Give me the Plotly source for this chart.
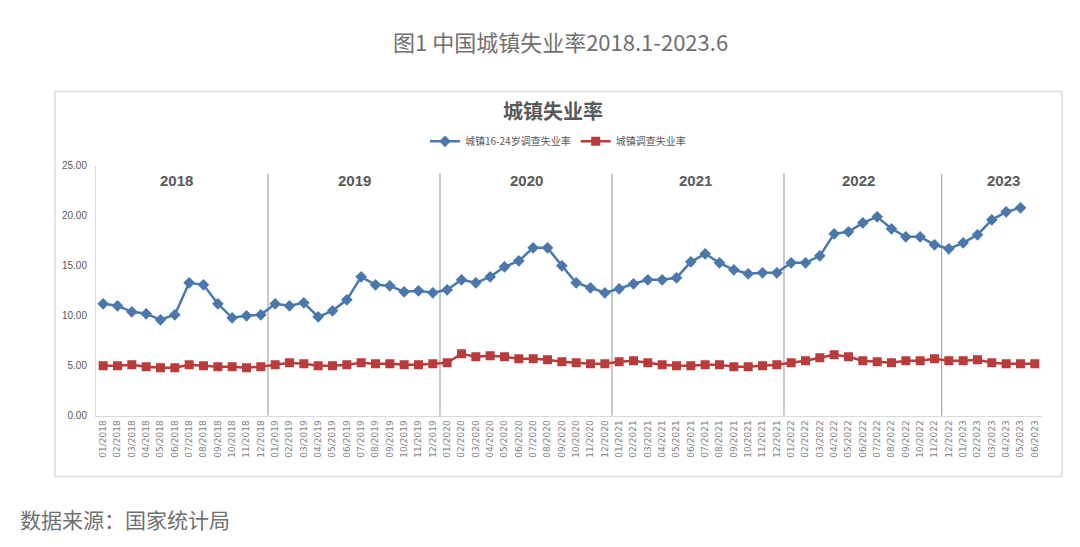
import plotly.graph_objects as go

# ---- data ----
months = [f"{m:02d}/{y}" for y in range(2018, 2024) for m in range(1, 13)][:66]

youth_rate = [
    11.2, 11.0, 10.4, 10.2, 9.6, 10.1, 13.3, 13.1, 11.2, 9.8, 10.0, 10.1,   # 2018
    11.2, 11.0, 11.3, 9.9, 10.5, 11.6, 13.9, 13.1, 13.0, 12.4, 12.5, 12.3,  # 2019
    12.6, 13.6, 13.3, 13.9, 14.9, 15.5, 16.8, 16.8, 15.0, 13.3, 12.8, 12.3, # 2020
    12.7, 13.2, 13.6, 13.6, 13.8, 15.4, 16.2, 15.3, 14.6, 14.2, 14.3, 14.3, # 2021
    15.3, 15.3, 16.0, 18.2, 18.4, 19.3, 19.9, 18.7, 17.9, 17.9, 17.1, 16.7, # 2022
    17.3, 18.1, 19.6, 20.4, 20.8, None,                                     # 2023
]

urban_rate = [
    5.0, 5.0, 5.1, 4.9, 4.8, 4.8, 5.1, 5.0, 4.9, 4.9, 4.8, 4.9,
    5.1, 5.3, 5.2, 5.0, 5.0, 5.1, 5.3, 5.2, 5.2, 5.1, 5.1, 5.2,
    5.3, 6.2, 5.9, 6.0, 5.9, 5.7, 5.7, 5.6, 5.4, 5.3, 5.2, 5.2,
    5.4, 5.5, 5.3, 5.1, 5.0, 5.0, 5.1, 5.1, 4.9, 4.9, 5.0, 5.1,
    5.3, 5.5, 5.8, 6.1, 5.9, 5.5, 5.4, 5.3, 5.5, 5.5, 5.7, 5.5,
    5.5, 5.6, 5.3, 5.2, 5.2, 5.2,
]

years = ["2018", "2019", "2020", "2021", "2022", "2023"]
y_ticks = [0, 5, 10, 15, 20, 25]

series_names = ["城镇16-24岁调查失业率", "城镇调查失业率"]

# ---- layout constants ----
W, H = 1080, 547
OFF = 8  # default page body margin


def px(x):
    return (x - OFF) / W


def py(y):
    return 1 - (y - OFF) / H


x_idx = list(range(len(months)))
separators = [11.5, 23.5, 35.5, 47.5, 58.5]
year_pos = [5.15, 17.5, 29.5, 41.3, 52.7, 62.8]

BLUE = "#4A78AC"
RED = "#B93B3B"
GRAY = "#595959"
CJK = "Noto Sans CJK SC"

fig = go.Figure()
fig.add_trace(go.Scatter(
    x=x_idx, y=youth_rate, name=series_names[0], mode="lines+markers",
    line=dict(color=BLUE, width=2.5),
    marker=dict(symbol="diamond", size=9, color=BLUE),
    connectgaps=False,
))
fig.add_trace(go.Scatter(
    x=x_idx, y=urban_rate, name=series_names[1], mode="lines+markers",
    line=dict(color=RED, width=2.5),
    marker=dict(symbol="square", size=9, color=RED),
))

shapes = []
shapes.append(dict(type="rect", xref="paper", yref="paper",
                   x0=px(55), x1=px(1062), y0=py(481), y1=py(88),
                   line=dict(color="#DADADA", width=1.5), layer="below"))
for s in separators:
    shapes.append(dict(type="line", xref="x", yref="y", x0=s, x1=s, y0=0, y1=24.2,
                       line=dict(color="#A6A6A6", width=1.2), layer="below"))

annotations = []
for yr, p in zip(years, year_pos):
    annotations.append(dict(x=p, y=23.5, xref="x", yref="y", text=f"<b>{yr}</b>",
                            xanchor="center", yanchor="middle",
                            showarrow=False, font=dict(family="Liberation Sans", size=15, color=GRAY)))
annotations.append(dict(x=px(560), y=py(37), xref="paper", yref="paper",
                        xanchor="center", yanchor="middle",
                        text="图1 中国城镇失业率2018.1-2023.6", showarrow=False,
                        font=dict(family=CJK, size=22, color="#707070")))
annotations.append(dict(x=px(553), y=py(108), xref="paper", yref="paper",
                        xanchor="center", yanchor="middle",
                        text="<b>城镇失业率</b>", showarrow=False,
                        font=dict(family=CJK, size=20, color=GRAY)))
annotations.append(dict(x=px(18), y=py(524), xref="paper", yref="paper",
                        xanchor="left", yanchor="middle",
                        text="数据来源：国家统计局", showarrow=False,
                        font=dict(family=CJK, size=21, color="#707070")))

fig.update_layout(
    width=W, height=H,
    margin=dict(l=0, r=0, t=0, b=0),
    paper_bgcolor="white", plot_bgcolor="white",
    showlegend=True,
    legend=dict(orientation="h", x=px(558), y=py(139), xanchor="center", yanchor="middle",
                font=dict(family=CJK, size=10, color=GRAY), itemwidth=30,
                bgcolor="rgba(0,0,0,0)"),
    xaxis=dict(domain=[px(96), px(1042)], range=[-0.5, len(months) - 0.5],
               tickmode="array", tickvals=x_idx, ticktext=months, tickangle=-90,
               tickfont=dict(family="DejaVu Sans", size=9, color="#7F7F7F"),
               showgrid=False, zeroline=False, showline=True, linecolor="#D9D9D9",
               linewidth=1, ticks=""),
    yaxis=dict(domain=[py(419), py(164)], range=[0, 25],
               tickmode="array", tickvals=y_ticks, tickformat=".2f",
               tickfont=dict(family="Liberation Sans", size=10, color=GRAY),
               showgrid=False, zeroline=False, showline=True, linecolor="#D9D9D9",
               linewidth=1, ticks="", ticklabelstandoff=6),
    shapes=shapes, annotations=annotations,
)

fig.write_html("out.html")
